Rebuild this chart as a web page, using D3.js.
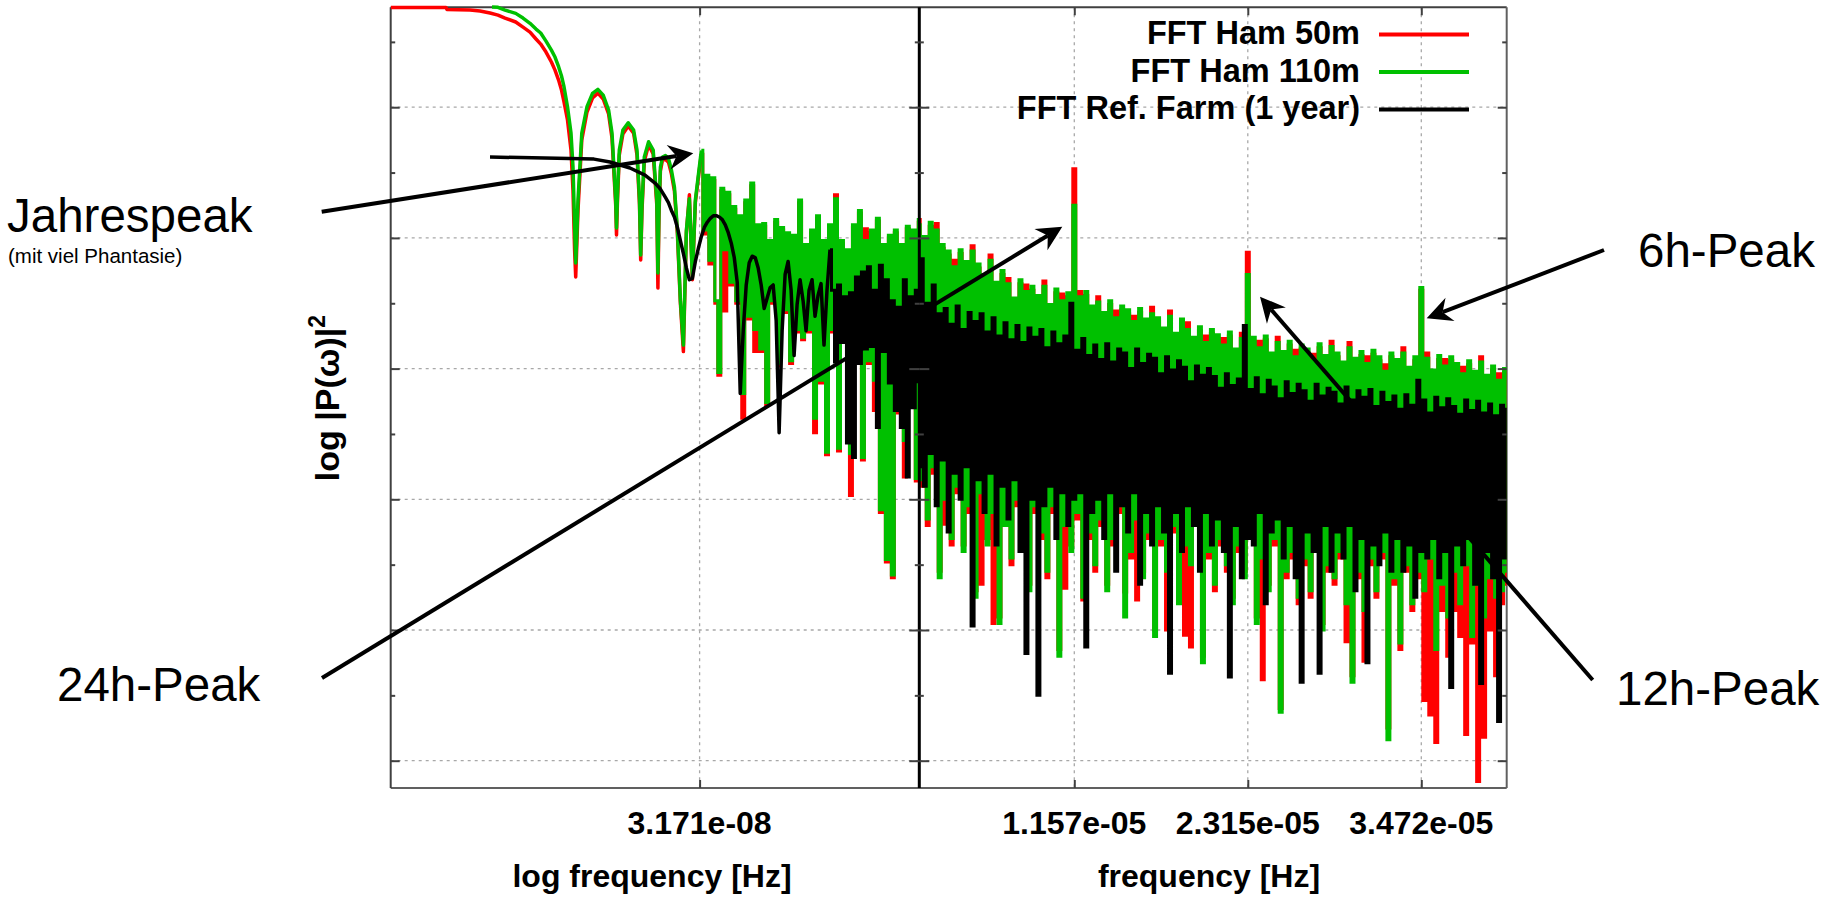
<!DOCTYPE html>
<html><head><meta charset="utf-8">
<script src="https://cdn.jsdelivr.net/npm/d3@7/dist/d3.min.js"></script>
<style>html,body{margin:0;padding:0;background:#fff;} svg{display:block}</style>
</head><body>
<svg id="chart" width="1839" height="899"></svg>
<script>
// ---------------- DATA ----------------
const seriesNames = ["FFT Ham 50m", "FFT Ham 110m", "FFT Ref. Farm (1 year)"];
const seriesColors = ["#ff0000", "#00c000", "#000000"];
const leftTicks = [3.171e-8];
const leftTickLabels = ["3.171e-08"];
const rightTicks = [1.1574e-5, 2.3148e-5, 3.4722e-5];
const rightTickLabels = ["1.157e-05", "2.315e-05", "3.472e-05"];
const yMajorTicks = [0, 10, 20, 30, 40, 50];   // log power (dB-like units), unlabeled
const yMinorTicks = [5, 15, 25, 35, 45, 55];
const xTitleLeft = "log frequency [Hz]";
const xTitleRight = "frequency [Hz]";

// left panel (log frequency): smooth low-frequency part, [log10(f), power]
const leftRedSmooth = [[-9.7701,57.63],[-9.3635,57.63],[-9.3562,57.47],[-9.1870,57.43],[-9.1135,57.36],[-9.0400,57.21],[-8.9812,57.05],[-8.9297,56.82],[-8.8510,56.52],[-8.7973,56.13],[-8.7459,55.75],[-8.7017,55.22],[-8.6672,54.83],[-8.6282,54.22],[-8.5885,53.46],[-8.5620,52.84],[-8.5356,52.08],[-8.5142,51.31],[-8.4959,50.40],[-8.4701,49.02],[-8.4444,46.72],[-8.4297,43.66],[-8.4179,39.07],[-8.4098,37.01],[-8.4003,39.84],[-8.3929,42.13],[-8.3650,47.49],[-8.3267,49.63],[-8.2863,50.70],[-8.2466,51.08],[-8.2076,50.63],[-8.1679,49.48],[-8.1429,47.64],[-8.1157,42.52],[-8.1098,40.22],[-8.1025,42.90],[-8.0892,46.34],[-8.0628,47.95],[-8.0238,48.56],[-7.9841,48.02],[-7.9591,46.34],[-7.9407,42.52],[-7.9319,38.31],[-7.9223,42.13],[-7.9054,45.88],[-7.8738,47.11],[-7.8400,46.42],[-7.8135,42.52],[-7.8054,36.16],[-7.7973,41.75],[-7.7870,45.12],[-7.7716,45.96]];
const leftGreenSmooth = [[-9.0253,57.66],[-8.9812,57.64],[-8.9297,57.43],[-8.8510,57.18],[-8.7973,56.82],[-8.7459,56.42],[-8.7017,55.98],[-8.6672,55.68],[-8.6282,55.06],[-8.5885,54.37],[-8.5620,53.84],[-8.5356,53.10],[-8.5142,52.39],[-8.4959,51.57],[-8.4701,50.04],[-8.4444,48.02],[-8.4297,45.42],[-8.4179,40.99],[-8.4098,38.08],[-8.4003,40.60],[-8.3929,42.90],[-8.3650,48.02],[-8.3267,50.04],[-8.2863,51.06],[-8.2466,51.37],[-8.2076,50.93],[-8.1679,49.78],[-8.1429,48.02],[-8.1157,42.90],[-8.1098,40.76],[-8.1025,43.28],[-8.0892,46.72],[-8.0628,48.25],[-8.0238,48.81],[-7.9841,48.25],[-7.9591,46.72],[-7.9407,42.90],[-7.9319,38.69],[-7.9223,42.52],[-7.9054,46.19],[-7.8738,47.36],[-7.8400,46.72],[-7.8135,42.90],[-7.8054,37.31],[-7.7973,42.13],[-7.7870,45.42],[-7.7716,46.19]];
const leftBlackSmooth = [[-9.0400,46.19],[-8.2753,46.03],[-8.1576,45.81],[-8.0106,45.35],[-7.9003,44.81],[-7.8267,44.20],[-7.7870,43.74]];

// left panel: noisy part on a log-frequency bin grid
const leftNoiseLogStart = -7.75, leftNoiseLogStep = 0.022;
const leftRedNoise = [46.0,45.8,44.9,43.6,40.3,35.0,31.3,40.4,43.3,36.8,42.7,44.6,46.4,40.3,44.6,38.0,44.4,35.0,29.5,
43.6,34.4,43.3,36.4,42.2,35.0,41.5,26.2,42.7,33.8,44.0,31.3,40.8,31.3,40.9,27.2,39.6,35.0,41.2,30.2,40.6,
34.3,40.2,30.4,40.0,32.8,42.7,32.2,39.3,32.8,40.4,25.1,41.5,28.9,39.6,23.4,40.8,32.8,43.3,23.7,39.6,
32.0,38.9,20.3,40.8,32.8,41.9,23.0,40.7,30.4,40.4,26.8,41.3,19.0,39.3,15.2,40.0,14.0,40.4,26.6,39.3,
21.7,40.7,28.9,40.4,21.4,41.2];
const leftGreenNoise = [46.3,46.1,45.2,43.9,40.6,35.2,31.8,40.6,43.0,37.0,42.9,44.8,46.7,40.6,44.8,38.3,44.6,35.2,29.7,
43.8,39.1,43.5,36.6,42.4,35.2,41.7,28.1,42.9,34.0,44.2,33.0,41.0,31.5,41.1,27.4,39.8,35.2,41.4,30.4,40.8,
34.5,40.4,30.6,40.2,33.0,42.9,32.4,39.5,33.0,40.6,26.2,41.7,29.1,39.8,23.6,41.0,33.0,43.0,23.9,39.8,
32.2,39.1,23.5,41.0,33.0,42.1,23.2,39.8,30.6,40.6,29.1,41.5,19.2,39.5,15.4,40.2,14.2,40.6,26.8,39.5,
24.5,40.9,29.1,40.6,21.6,41.4];
const leftBlackNoise = [43.1,42.7,42.1,41.6,40.8,39.8,38.8,37.7,36.8,36.9,38.2,39.2,40.1,40.8,41.2,41.5,41.7,41.7,41.6,41.4,
41.0,40.4,39.6,38.5,36.6,28.1,32.9,36.4,38.1,38.6,38.5,37.7,36.4,34.6,35.4,36.2,36.4,33.7,25.1,32.9,
37.2,38.2,36.0,31.0,34.9,36.8,35.2,32.9,36.0,36.8,34.0,35.6,36.5,31.8,36.0,39.1,36.0,30.5,36.4,32.0,
35.5,24.3,35.8,23.2,37.0,30.4,37.4,31.5,37.8,31.7,36.0,25.5,37.9,31.3,36.8,28.9,35.2,26.8,34.7,25.5,
36.8,21.7,35.5,27.0,36.0,29.0];
// index in each noise array where the smooth (lobe) shape turns into noise
const leftNoiseStartIndex = [12, 12, 55];

// right panel (linear frequency): FFT bins
const rightF0 = 1.1973e-6, rightDf = 1.99552e-7;
const rightRed = [41.4,21.0,39.8,18.0,40.9,22.0,41.1,14.5,39.2,18.1,38.7,16.5,38.3,20.5,38.8,16.5,37.9,19.0,39.4,13.0,
37.7,13.5,36.9,17.0,38.7,10.5,36.3,11.0,37.2,18.5,36.9,15.0,35.1,19.5,36.5,16.5,36.4,13.5,36.0,19.0,
35.3,17.0,36.7,14.0,34.6,19.0,35.8,8.5,35.7,13.2,35.5,16.5,45.3,18.5,35.9,12.3,35.6,17.0,34.5,14.5,
35.5,18.0,34.0,13.5,34.9,16.5,34.4,19.0,34.5,12.9,34.2,15.5,34.0,12.3,34.3,14.5,33.5,17.0,34.7,10.0,
33.6,16.5,32.8,10.0,34.4,17.5,32.4,12.5,33.5,9.6,33.5,8.7,32.1,18.0,32.9,8.0,32.5,15.5,32.7,13.0,
32.3,16.5,32.3,14.5,32.5,12.5,31.2,16.0,32.7,14.5,38.9,17.0,32.1,11.0,32.1,6.2,32.2,13.5,30.9,16.5,
32.4,4.0,31.0,14.0,31.8,15.5,31.4,12.0,31.5,15.0,31.2,12.5,31.1,16.0,31.6,10.5,30.7,14.5,32.1,13.5,
30.9,15.5,30.2,9.1,32.0,6.5,30.5,14.0,31.0,7.6,30.9,15.0,31.1,12.5,30.6,15.5,30.3,2.5,30.9,13.5,
30.4,8.5,31.6,14.5,29.8,11.5,30.6,14.0,36.0,4.6,31.2,3.5,29.6,1.4,30.7,11.5,30.7,8.0,30.6,11.5,
30.1,9.5,30.1,2.0,30.3,9.0,29.5,-1.6,30.9,1.8,29.2,10.0,29.9,6.5,29.6,12.0,29.7,13.5];
const rightGreen = [41.0,21.5,40.1,18.5,41.2,22.5,40.6,14.0,39.5,20.0,39.0,17.0,37.8,21.0,39.1,16.0,38.2,19.5,39.0,12.5,
38.0,20.5,37.2,16.5,38.3,19.0,36.6,10.5,37.5,18.0,36.5,15.5,35.4,20.0,36.8,17.0,35.9,13.0,36.3,19.5,
35.6,17.5,36.3,14.5,34.9,19.5,36.1,8.0,35.2,18.0,35.8,16.0,42.5,19.0,35.5,12.5,35.9,17.5,34.8,15.0,
35.1,18.5,34.3,13.0,35.2,17.0,33.9,19.5,34.8,11.0,34.5,16.0,33.6,18.5,34.6,14.0,33.8,17.5,34.2,9.5,
33.9,17.0,33.1,14.5,34.0,18.0,32.7,12.0,33.8,16.5,33.0,15.0,32.4,18.5,33.2,7.5,32.0,16.0,33.0,13.5,
32.6,17.0,31.8,15.0,32.8,12.0,31.5,16.5,32.3,14.0,37.2,17.5,32.4,10.5,31.6,15.5,32.5,13.0,31.2,17.0,
32.0,3.7,31.3,14.5,32.1,16.0,30.9,12.5,31.8,15.5,31.5,13.0,30.6,16.5,31.9,10.0,31.0,15.0,31.7,14.0,
31.2,16.0,30.5,12.0,31.6,6.0,30.8,14.5,31.3,11.5,30.4,15.5,31.4,13.0,30.9,16.0,29.8,1.6,31.2,14.0,
30.7,9.0,31.2,15.0,30.1,12.0,30.9,14.5,36.2,13.0,30.8,15.5,29.9,8.5,31.0,13.5,30.2,11.0,30.9,14.5,
30.4,12.0,29.6,15.0,30.6,9.5,29.8,13.5,30.5,11.0,29.5,14.0,30.2,12.5,29.1,13.0,30.0,14.5];
const rightBlack = [22.5,38.4,21.0,35.0,23.5,36.4,19.5,34.2,23.0,34.6,17.5,33.4,22.0,34.8,20.0,33.0,22.5,34.3,10.3,33.6,
21.5,34.2,19.0,32.8,22.0,33.9,16.5,32.5,21.0,33.5,18.5,32.2,21.5,33.3,16.0,32.0,8.2,33.1,20.0,32.4,
5.0,33.0,19.5,31.6,21.0,32.8,17.0,31.9,20.5,32.5,18.0,35.0,20.0,31.4,20.5,32.3,8.7,31.0,19.0,31.8,
20.0,30.7,17.0,31.9,20.5,30.5,14.5,31.5,19.5,31.2,17.5,30.0,20.5,31.5,13.5,30.4,19.0,31.1,16.5,30.8,
19.5,29.6,17.5,30.9,6.7,29.9,19.0,30.6,16.0,30.1,19.5,29.0,18.0,30.2,14.5,29.5,19.0,30.0,16.5,29.4,
18.5,28.5,16.0,29.6,6.4,28.7,18.0,29.2,14.0,33.3,17.0,28.4,16.5,29.3,19.0,28.0,12.0,29.1,17.5,28.6,
18.5,27.7,15.5,29.0,18.0,28.1,14.0,28.8,6.0,28.3,17.5,27.5,16.0,28.8,6.7,27.9,18.0,28.5,14.5,28.2,
17.5,27.3,15.5,28.6,18.0,27.6,13.0,28.3,17.0,27.8,7.5,28.4,16.5,27.1,15.0,28.2,17.5,27.4,14.5,27.9,
17.0,26.9,14.5,28.0,16.5,27.2,12.5,29.1,16.0,27.6,15.5,26.6,17.0,27.8,14.0,27.0,16.0,27.7,5.6,27.1,
16.5,26.5,15.0,27.6,17.0,26.8,13.5,27.5,5.9,26.6,16.0,27.3,14.0,26.4,3.0,27.2,15.5,26.9];

// annotation texts and arrow tips (tips in data coordinates)
const annotTexts = ["Jahrespeak", "(mit viel Phantasie)", "24h-Peak", "12h-Peak", "6h-Peak"];
const annotTipPanel = ["left", "right", "right", "right"];
const annotTipFreq = [2.85e-8, 1.0773e-5, 2.3962e-5, 3.5082e-5];
const annotTipValue = [46.47, 40.86, 35.50, 33.85];

// ---------------- LAYOUT ----------------
const L = {top: 7.3, bottom: 788, left: 390.7, div: 919.3, right: 1506.7};
const font = "'Liberation Sans', Arial, Helvetica, sans-serif";
const svg = d3.select("#chart");

const y = d3.scaleLinear().domain([-2.089, 57.645]).range([L.bottom, L.top]);
const xL = d3.scaleLog().domain([Math.pow(10, -9.7701), Math.pow(10, -5.8834)]).range([L.left, L.div]);
const xR = d3.scaleLinear().domain([1.2341e-6, 4.0419e-5]).range([L.div, L.right]);

const defs = svg.append("defs");
defs.append("clipPath").attr("id", "clipL").append("rect")
  .attr("x", L.left).attr("y", 0).attr("width", L.div - L.left).attr("height", L.bottom);
defs.append("clipPath").attr("id", "clipR").append("rect")
  .attr("x", L.div).attr("y", 0).attr("width", L.right - L.div).attr("height", L.bottom);

// grid
const grid = svg.append("g").attr("stroke", "#a8a8a8").attr("stroke-width", 1.3).attr("stroke-dasharray", "3,4");
yMajorTicks.forEach(v => {
  grid.append("line").attr("x1", L.left).attr("x2", L.div).attr("y1", y(v)).attr("y2", y(v));
  grid.append("line").attr("x1", L.div).attr("x2", L.right).attr("y1", y(v)).attr("y2", y(v));
});
leftTicks.forEach(f => grid.append("line").attr("x1", xL(f)).attr("x2", xL(f)).attr("y1", L.top).attr("y2", L.bottom));
rightTicks.forEach(f => grid.append("line").attr("x1", xR(f)).attr("x2", xR(f)).attr("y1", L.top).attr("y2", L.bottom));

// borders (except divider)
const border = svg.append("g").attr("stroke", "#404040").attr("stroke-width", 2).attr("fill", "none");
border.append("line").attr("x1", L.left).attr("x2", L.right).attr("y1", L.top).attr("y2", L.top);
border.append("line").attr("x1", L.left).attr("x2", L.right).attr("y1", L.bottom).attr("y2", L.bottom).attr("stroke", "#606060");
border.append("line").attr("x1", L.left).attr("x2", L.left).attr("y1", L.top).attr("y2", L.bottom);
border.append("line").attr("x1", L.right).attr("x2", L.right).attr("y1", L.top).attr("y2", L.bottom).attr("stroke", "#606060");

// series
const leftGrid = leftGreenNoise.map((_, k) => Math.pow(10, leftNoiseLogStart + k * leftNoiseLogStep));
const leftSmoothSets = [leftRedSmooth, leftGreenSmooth, leftBlackSmooth];
const leftNoiseSets = [leftRedNoise, leftGreenNoise, leftBlackNoise];
const rightSets = [rightRed, rightGreen, rightBlack];

const lineLinL = d3.line().x(d => xL(d.f)).y(d => y(d.v));
const lineStepL = d3.line().curve(d3.curveStep).x(d => xL(d.f)).y(d => y(d.v));
const lineStepR = d3.line().curve(d3.curveStep).x(d => xR(d.f)).y(d => y(d.v));
const gL = svg.append("g").attr("clip-path", "url(#clipL)");
const gR = svg.append("g").attr("clip-path", "url(#clipR)");
[0, 1, 2].forEach(s => {
  const noisePts = leftNoiseSets[s].map((v, k) => ({f: leftGrid[k], v}));
  const cut = leftNoiseStartIndex[s];
  const smoothPts = leftSmoothSets[s].map(([lf, v]) => ({f: Math.pow(10, lf), v})).concat(noisePts.slice(0, cut + 1));
  gL.append("path").datum(smoothPts).attr("d", lineLinL).attr("fill", "none")
    .attr("stroke", seriesColors[s]).attr("stroke-width", 3.5).attr("stroke-linejoin", "round");
  gL.append("path").datum(noisePts.slice(cut)).attr("d", lineStepL).attr("fill", "none")
    .attr("stroke", seriesColors[s]).attr("stroke-width", 3).attr("stroke-linejoin", "miter");
  const rPts = rightSets[s].map((v, i) => ({f: rightF0 + i * rightDf, v}));
  gR.append("path").datum(rPts).attr("d", lineStepR).attr("fill", "none")
    .attr("stroke", seriesColors[s]).attr("stroke-width", 3).attr("stroke-linejoin", "miter");
});

// divider
svg.append("line").attr("x1", L.div).attr("x2", L.div).attr("y1", L.top).attr("y2", L.bottom)
  .attr("stroke", "#000").attr("stroke-width", 3);

// ticks
function ticks(gen, tx, ty, scale, vals, size) {
  const g = svg.append("g").attr("transform", `translate(${tx},${ty})`)
    .call(gen(scale).tickValues(vals).tickSize(size).tickFormat(""));
  g.select(".domain").remove();
  g.selectAll("line").attr("stroke", "#404040").attr("stroke-width", 2);
}
ticks(d3.axisRight, L.left, 0, y, yMajorTicks, 9);
ticks(d3.axisRight, L.left, 0, y, yMinorTicks, 4.5);
ticks(d3.axisLeft, L.div, 0, y, yMajorTicks, 10);
ticks(d3.axisRight, L.div, 0, y, yMajorTicks, 10);
ticks(d3.axisLeft, L.div, 0, y, yMinorTicks, 4.5);
ticks(d3.axisRight, L.div, 0, y, yMinorTicks, 4.5);
ticks(d3.axisLeft, L.right, 0, y, yMajorTicks, 9);
ticks(d3.axisLeft, L.right, 0, y, yMinorTicks, 4.5);
ticks(d3.axisTop, 0, L.bottom, xL, leftTicks, 8);
ticks(d3.axisBottom, 0, L.top, xL, leftTicks, 8);
ticks(d3.axisTop, 0, L.bottom, xR, rightTicks, 8);
ticks(d3.axisBottom, 0, L.top, xR, rightTicks, 8);

// tick labels and titles
const txt = svg.append("g").attr("font-family", font).attr("font-weight", "bold").attr("font-size", 32).attr("fill", "#000");
leftTicks.forEach((f, i) => txt.append("text").attr("x", xL(f)).attr("y", 834).attr("text-anchor", "middle").text(leftTickLabels[i]));
rightTicks.forEach((f, i) => txt.append("text").attr("x", xR(f)).attr("y", 834).attr("text-anchor", "middle").text(rightTickLabels[i]));
txt.append("text").attr("x", 652).attr("y", 887).attr("text-anchor", "middle").text(xTitleLeft);
txt.append("text").attr("x", 1209).attr("y", 887).attr("text-anchor", "middle").text(xTitleRight);
const yl = txt.append("text").attr("transform", "translate(339,398) rotate(-90)").attr("text-anchor", "middle").attr("font-size", 34);
yl.append("tspan").text("log |P(\u03c9)|");
yl.append("tspan").attr("dy", -14).attr("font-size", 23).text("2");

// legend
const legY = [44, 81.5, 119];
seriesNames.forEach((n, i) => {
  svg.append("text").attr("x", 1360).attr("y", legY[i]).attr("text-anchor", "end")
    .attr("font-family", font).attr("font-weight", "bold").attr("font-size", 32.5).text(n);
  svg.append("line").attr("x1", 1379).attr("x2", 1469).attr("y1", legY[i] - 9.5).attr("y2", legY[i] - 9.5)
    .attr("stroke", seriesColors[i]).attr("stroke-width", 4);
});

// annotations
const ann = svg.append("g").attr("font-family", font).attr("fill", "#000");
ann.append("text").attr("x", 7).attr("y", 231.7).attr("font-size", 47.5).text(annotTexts[0]);
ann.append("text").attr("x", 8).attr("y", 263).attr("font-size", 20.5).text(annotTexts[1]);
ann.append("text").attr("x", 57).attr("y", 701).attr("font-size", 47.5).text(annotTexts[2]);
ann.append("text").attr("x", 1616).attr("y", 705).attr("font-size", 47.5).text(annotTexts[3]);
ann.append("text").attr("x", 1638).attr("y", 266.7).attr("font-size", 47.5).text(annotTexts[4]);

const arrowStarts = [[321.7, 211.7], [322, 678], [1592.7, 680], [1604, 250]];
function arrow(x1, y1, x2, y2) {
  const dx = x2 - x1, dy = y2 - y1, len = Math.hypot(dx, dy), ux = dx / len, uy = dy / len, nx = -uy, ny = ux;
  const hl = 25, hw = 12.5, notch = 17;
  svg.append("line").attr("x1", x1).attr("y1", y1).attr("x2", x2 - ux * notch).attr("y2", y2 - uy * notch)
    .attr("stroke", "#000").attr("stroke-width", 4);
  svg.append("path").attr("d",
    `M${x2},${y2}L${x2 - ux * hl + nx * hw},${y2 - uy * hl + ny * hw}L${x2 - ux * notch},${y2 - uy * notch}L${x2 - ux * hl - nx * hw},${y2 - uy * hl - ny * hw}Z`)
    .attr("fill", "#000");
}
annotTipFreq.forEach((f, i) => {
  const tx = annotTipPanel[i] === "left" ? xL(f) : xR(f);
  arrow(arrowStarts[i][0], arrowStarts[i][1], tx, y(annotTipValue[i]));
});
</script>
</body></html>
